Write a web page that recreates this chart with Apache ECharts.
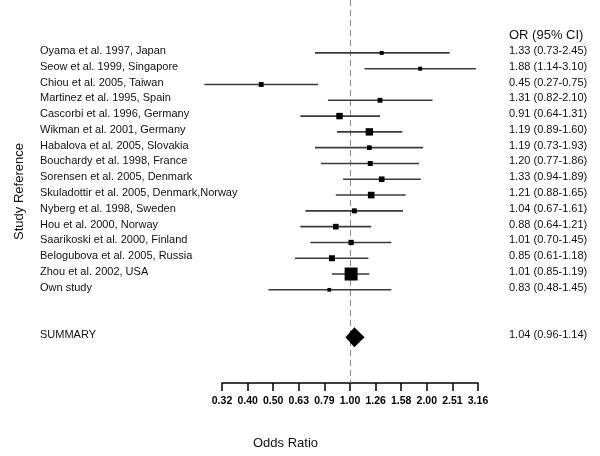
<!DOCTYPE html>
<html>
<head>
<meta charset="utf-8">
<script src="https://cdn.jsdelivr.net/npm/echarts@6/dist/echarts.min.js"></script>
<style>
	html, body { margin: 0; padding: 0; background: #fff; }
	#chart { width: 600px; height: 456px; }
</style>
</head>
<body>
<div id="chart"></div>
<script>
var studies = [
	"Oyama et al. 1997, Japan",
	"Seow et al. 1999, Singapore",
	"Chiou et al. 2005, Taiwan",
	"Martinez et al. 1995, Spain",
	"Cascorbi et al. 1996, Germany",
	"Wikman et al. 2001, Germany",
	"Habalova et al. 2005, Slovakia",
	"Bouchardy et al. 1998, France",
	"Sorensen et al. 2005, Denmark",
	"Skuladottir et al. 2005, Denmark,Norway",
	"Nyberg et al. 1998, Sweden",
	"Hou et al. 2000, Norway",
	"Saarikoski et al. 2000, Finland",
	"Belogubova et al. 2005, Russia",
	"Zhou et al. 2002, USA",
	"Own study"
];
var oddsRatio = [1.33, 1.88, 0.45, 1.31, 0.91, 1.19, 1.19, 1.20, 1.33, 1.21, 1.04, 0.88, 1.01, 0.85, 1.01, 0.83];
var ciLow     = [0.73, 1.14, 0.27, 0.82, 0.64, 0.89, 0.73, 0.77, 0.94, 0.88, 0.67, 0.64, 0.70, 0.61, 0.85, 0.48];
var ciHigh    = [2.45, 3.10, 0.75, 2.10, 1.31, 1.60, 1.93, 1.86, 1.89, 1.65, 1.61, 1.21, 1.45, 1.18, 1.19, 1.45];
// study weight (%)
var weights   = [1.6, 1.6, 2.4, 2.4, 4.2, 5.5, 2.2, 2.5, 3.2, 4.4, 2.5, 3.2, 2.8, 3.6, 17, 1.4];

var summaryName = "SUMMARY";
var summaryOR = 1.04;
var summaryLow = 0.96;
var summaryHigh = 1.14;
var summaryRow = 18;

var tickMin = -0.5;
var tickMax = 0.5;
var tickStep = 0.1;

var FONT = "'Liberation Sans', Arial, sans-serif";

function fmt(v){
	return v.toFixed(2);
}

/*
 * rows for the custom series : [logOR, row, logLow, logHigh, weight, index]
 */
var rows = [];
for(var i = 0; i < studies.length; i++){
	rows.push([Math.log10(oddsRatio[i]), i, Math.log10(ciLow[i]), Math.log10(ciHigh[i]), weights[i], i]);
}
rows.push([Math.log10(summaryOR), summaryRow, Math.log10(summaryLow), Math.log10(summaryHigh), 0, -1]);

function renderRow(params, api){
	var idx = api.value(5);
	var y = api.coord([0, api.value(1)])[1];
	var pLo = api.coord([api.value(2), api.value(1)]);
	var pHi = api.coord([api.value(3), api.value(1)]);
	var pMid = api.coord([api.value(0), api.value(1)]);
	var children = [];
	var name, orText;

	if(idx >= 0){
		var size = 3.15 * Math.sqrt(api.value(4));
		children.push({
			type: 'line',
			shape: { x1: pLo[0], y1: y, x2: pHi[0], y2: y },
			style: { stroke: '#3a3a3a', lineWidth: 1.6 }
		});
		children.push({
			type: 'rect',
			shape: { x: pMid[0] - size / 2, y: y - size / 2, width: size, height: size },
			style: { fill: '#000' }
		});
		name = studies[idx];
		orText = fmt(oddsRatio[idx]) + " (" + fmt(ciLow[idx]) + "-" + fmt(ciHigh[idx]) + ")";
	}else{
		var half = 10;
		children.push({
			type: 'polygon',
			shape: { points: [[pLo[0], y], [pMid[0], y - half], [pHi[0], y], [pMid[0], y + half]] },
			style: { fill: '#000' }
		});
		name = summaryName;
		orText = fmt(summaryOR) + " (" + fmt(summaryLow) + "-" + fmt(summaryHigh) + ")";
	}

	children.push({
		type: 'text',
		x: 40, y: y - 2,
		style: { text: name, fill: '#111', font: '11px ' + FONT, verticalAlign: 'middle', align: 'left' }
	});
	children.push({
		type: 'text',
		x: 509, y: y - 2,
		style: { text: orText, fill: '#111', font: '11px ' + FONT, verticalAlign: 'middle', align: 'left' }
	});
	return { type: 'group', children: children };
}

var myChart = echarts.init(document.getElementById('chart'), null, { renderer: 'canvas' });
var option = {
	backgroundColor: '#fff',
	animation: false,
	textStyle: { fontFamily: FONT },
	title: {
		text: 'Odds Ratio',
		left: 253, top: 437,
		padding: 0,
		textStyle: { fontSize: 13, fontWeight: 'normal', color: '#111', fontFamily: FONT }
	},
	graphic: [{
		type: 'text',
		left: 509, top: 29,
		style: { text: 'OR (95% CI)', fill: '#111', font: '13px ' + FONT }
	}],
	grid: { left: 222, right: 122, top: 0, height: 383, containLabel: false },
	xAxis: {
		type: 'value',
		min: tickMin, max: tickMax, interval: tickStep,
		axisLine: { show: true, onZero: false, lineStyle: { color: '#000', width: 1.5 } },
		axisTick: { show: true, inside: false, length: 8, lineStyle: { color: '#000', width: 1.5 } },
		axisLabel: {
			margin: 13,
			fontSize: 10.5,
			fontWeight: 'bold',
			color: '#000',
			fontFamily: "'Liberation Sans Narrow', 'Liberation Sans', sans-serif",
			formatter: function(v){ return Math.pow(10, v).toFixed(2); }
		},
		splitLine: { show: false }
	},
	yAxis: {
		type: 'value',
		inverse: true,
		min: -3.35, max: 20.9,
		name: 'Study Reference',
		nameLocation: 'middle',
		nameRotate: 90,
		nameGap: 196,
		nameTextStyle: { fontSize: 13, color: '#111', fontFamily: FONT },
		axisLine: { show: false },
		axisTick: { show: false },
		axisLabel: { show: false },
		splitLine: { show: false }
	},
	series: [{
		// reference line at OR = 1, kept under the markers
		type: 'line',
		z: 1,
		data: [],
		markLine: {
			silent: true,
			symbol: 'none',
			label: { show: false },
			lineStyle: { color: '#8a8a8a', width: 1, type: [6, 4] },
			data: [{ xAxis: 0 }]
		}
	}, {
		type: 'custom',
		z: 5,
		renderItem: renderRow,
		data: rows,
		clip: false
	}]
};
myChart.setOption(option);
</script>
</body>
</html>
